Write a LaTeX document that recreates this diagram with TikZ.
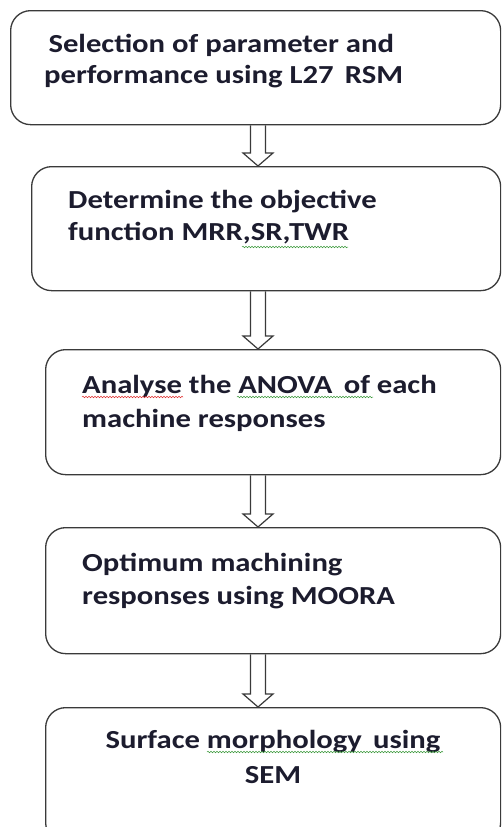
\documentclass[tikz,border=0pt]{standalone}
\usepackage{fontspec}
\setmainfont[FakeStretch=1.18]{Carlito}
\usetikzlibrary{calc,decorations.pathmorphing}
\definecolor{boxline}{HTML}{3A3A3A}
\definecolor{txt}{HTML}{1C1C2E}
\definecolor{spellgreen}{HTML}{3C9A3C}
\definecolor{spellred}{HTML}{E03030}
\tikzset{
  stepbox/.style={draw=boxline, line width=1.3pt, rounded corners=20pt, anchor=north west, inner sep=0pt},
  steptext/.style={text=txt, font=\bfseries\fontsize{26}{33}\selectfont, inner sep=0pt, align=left, anchor=base west},
  barrow/.style={draw=boxline, line width=1.2pt, line join=miter},
  squiggle/.style={line width=0.5pt, decorate, decoration={snake, segment length=3pt, amplitude=0.8pt}},
}
\newcommand\blockarrow[2]{%
  \draw[barrow] let \p1=(#1.south), \p2=(#2.north), \p3=(ax) in
    (\x3-7.5pt,\y1) -- (\x3-7.5pt,\y2+13pt) -- (\x3-15pt,\y2+13pt) -- (\x3,\y2)
    -- (\x3+15pt,\y2+13pt) -- (\x3+7.5pt,\y2+13pt) -- (\x3+7.5pt,\y1);}
\begin{document}
\begin{tikzpicture}[x=1pt,y=-1pt]
\useasboundingbox (0,0) rectangle (501,827);
\clip (0,0) rectangle (501,827);
\fill[white] (0,0) rectangle (501,827);
\coordinate (ax) at (258,0);
% boxes
\node[stepbox, minimum width=490pt, minimum height=114pt] (b1) at (10,10) {};
\node[stepbox, minimum width=469pt, minimum height=124pt] (b2) at (31,166) {};
\node[stepbox, minimum width=455pt, minimum height=125pt] (b3) at (45,349) {};
\node[stepbox, minimum width=455pt, minimum height=126pt] (b4) at (45,527) {};
\node[stepbox, minimum width=455pt, minimum height=135pt] (b5) at (45,707) {};
% texts (anchor = baseline of the last line)
\node[steptext, font=\bfseries\fontsize{26}{31}\selectfont] (t1) at (44,83) {\,Selection of parameter and\\performance using L27 \,RSM};
\node[steptext, font=\bfseries\fontsize{26}{32}\selectfont] (t2) at (68,240) {Determine the objective\\function MRR,SR,TWR};
\node[steptext, font=\bfseries\fontsize{26}{34}\selectfont] (t3) at (82,427) {Analyse the ANOVA \,of each\\machine responses};
\node[steptext] (t4) at (82,604) {Optimum machining\\responses using MOORA};
\node[steptext, align=center, anchor=base, font=\bfseries\fontsize{26}{35}\selectfont] (t5) at (273,783) {Surface morphology \,using\\SEM};
% block arrows
\blockarrow{b1}{b2}
\blockarrow{b2}{b3}
\blockarrow{b3}{b4}
\blockarrow{b4}{b5}
% spell-check marks
\draw[squiggle, spellgreen] (242,247) -- (348,247);
\draw[squiggle, spellred] (82,397) -- (183,397);
\draw[squiggle, spellgreen] (237,397) -- (373,397);
\draw[squiggle, spellgreen] (207,752) -- (443,752);
\end{tikzpicture}
\end{document}
